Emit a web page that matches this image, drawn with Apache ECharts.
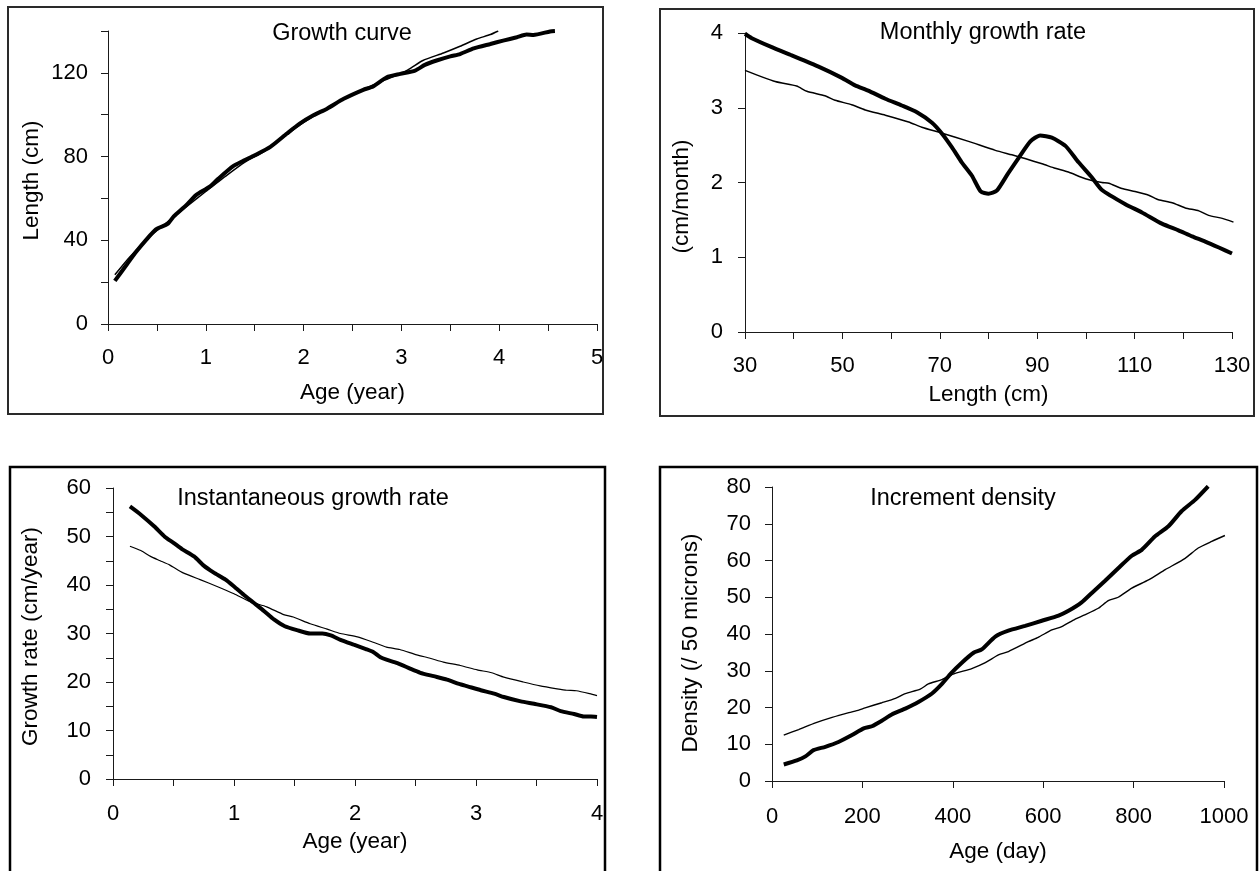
<!DOCTYPE html>
<html>
<head>
<meta charset="utf-8">
<script src="https://cdn.jsdelivr.net/npm/echarts@6/dist/echarts.min.js"></script>
<style>
html,body{margin:0;padding:0;background:#fff;}
#c{width:1259px;height:871px;}
</style>
</head>
<body>
<div id="c"></div>
<script>
// ---------- Panel 1: Growth curve ----------
const growthObsAge = [0.07,0.19,0.29,0.39,0.49,0.61,0.67,0.80,0.90,1.04,1.13,1.28,1.38,1.50,1.66,1.83,1.96,2.10,2.24,2.41,2.61,2.71,2.85,2.99,3.14,3.24,3.36,3.50,3.60,3.74,3.91,4.04,4.18,4.28,4.35,4.52,4.57];
const growthObsLen = [20.6,28.3,34.6,40.2,45.2,47.8,51.3,56.8,61.6,65.6,69.5,75.4,77.9,80.6,84.6,91.0,95.7,99.7,102.9,107.6,111.9,113.5,117.9,119.5,121.1,123.8,125.9,127.9,129.0,131.7,133.8,135.4,137.0,138.3,138.1,139.8,140.0];
const growthFitAge = [0.07,0.22,0.40,0.60,0.80,1.00,1.20,1.40,1.60,1.80,2.00,2.20,2.40,2.60,2.80,3.00,3.10,3.22,3.43,3.60,3.77,3.91,3.99];
const growthFitLen = [23.5,31.9,40.5,48.5,56.0,63.3,70.5,77.3,82.5,89.5,96.3,102.0,107.2,111.8,116.0,119.8,122.4,125.9,129.5,132.7,136.2,138.3,140.0];

// ---------- Panel 2: Monthly growth rate ----------
const monthlyObsLen = [30,31.4,35.5,39.6,45.1,49.9,52.6,55.3,58.8,62.2,65.3,68.4,70.5,72.5,74.5,76.6,78.4,80.0,81.7,84.1,86.2,88.6,90.6,93.0,95.8,98.5,101.2,103.3,108.1,111.5,115.6,119.0,121.8,124.5,127.3,130.0];
const monthlyObsRate = [3.99,3.93,3.81,3.70,3.55,3.40,3.30,3.23,3.12,3.03,2.94,2.80,2.65,2.47,2.27,2.09,1.88,1.85,1.89,2.13,2.33,2.55,2.63,2.60,2.49,2.27,2.07,1.90,1.71,1.60,1.45,1.36,1.28,1.21,1.13,1.05];
const monthlyFitLen = [30,36.2,40.6,42.7,46.4,48.5,51.9,54.7,58.8,63.6,66.3,70.5,75.9,81.4,84.8,87.5,91.0,93.7,96.4,99.9,103.3,104.7,107.4,110.1,112.9,114.9,117.7,120.4,123.2,125.2,128.0,130.3];
const monthlyFitRate = [3.50,3.35,3.29,3.22,3.16,3.10,3.04,2.97,2.90,2.81,2.74,2.66,2.55,2.43,2.37,2.32,2.25,2.19,2.14,2.05,2.00,1.99,1.92,1.88,1.83,1.77,1.73,1.66,1.62,1.56,1.52,1.47];

// ---------- Panel 3: Instantaneous growth rate ----------
const instObsAge = [0.14,0.23,0.34,0.43,0.50,0.57,0.67,0.75,0.83,0.93,1.00,1.08,1.16,1.25,1.33,1.42,1.52,1.63,1.73,1.80,1.88,1.99,2.09,2.15,2.21,2.26,2.35,2.46,2.54,2.65,2.76,2.86,2.93,3.04,3.15,3.23,3.37,3.48,3.62,3.70,3.81,3.89,3.95,4.00];
const instObsRate = [56.2,54.5,52.1,49.9,48.7,47.4,45.9,44.0,42.6,41.1,39.7,38.0,36.4,34.6,32.9,31.5,30.7,30.0,30.0,29.6,28.7,27.7,26.8,26.2,25.1,24.6,23.9,22.7,21.9,21.2,20.5,19.6,19.1,18.3,17.6,16.9,16.0,15.5,14.8,14.0,13.4,12.9,12.9,12.8];
const instFitAge = [0.14,0.23,0.31,0.39,0.47,0.58,0.72,0.86,1.00,1.13,1.27,1.41,1.49,1.63,1.77,1.88,2.02,2.15,2.26,2.37,2.51,2.62,2.73,2.87,3.01,3.13,3.23,3.39,3.53,3.67,3.75,3.83,3.94,4.00];
const instFitRate = [48.0,47.1,45.9,45.0,44.1,42.5,41.1,39.7,38.2,36.6,35.5,33.9,33.4,32.0,30.9,30.0,29.3,28.2,27.2,26.7,25.6,24.9,24.1,23.4,22.5,21.9,21.0,20.0,19.2,18.6,18.3,18.2,17.6,17.2];

// ---------- Panel 4: Increment density ----------
const densObsDay = [26,55,74,92,118,147,177,203,221,243,265,295,324,354,376,396,420,446,464,494,523,560,597,634,656,685,707,737,766,796,818,847,877,906,936,965];
const densObsVal = [4.5,5.6,6.7,8.4,9.3,10.6,12.5,14.3,14.9,16.4,18.1,19.7,21.5,23.8,26.4,29.3,32.2,34.9,35.8,39.3,40.9,42.2,43.6,45.0,46.3,48.6,51.1,54.5,57.9,61.3,62.9,66.5,69.3,73.4,76.5,80.2];
const densFitDay = [26,59,96,133,170,192,206,243,273,295,328,346,376,401,442,472,501,523,567,589,619,641,670,692,722,744,766,796,833,870,914,943,973,1002];
const densFitVal = [12.5,14.0,15.8,17.3,18.6,19.3,19.9,21.3,22.5,23.8,25.0,26.4,27.6,29.1,30.6,32.2,34.3,35.2,37.9,39.1,41.1,42.0,44.0,45.2,47.0,49.1,50.0,52.5,54.7,57.5,60.6,63.4,65.2,66.8];

// ---------- Text ----------
const panelTitles = ['Growth curve','Monthly growth rate','Instantaneous growth rate','Increment density'];
const xNames = ['Age (year)','Length (cm)','Age (year)','Age (day)'];
const yNames = ['Length (cm)','(cm/month)','Growth rate (cm/year)','Density (/ 50 microns)'];

function zip(xs, ys){ return xs.map((x,i)=>[x, ys[i]]); }
const FONT = "'Liberation Sans', Arial, Helvetica, sans-serif";
const AX = '#1a1a1a';

function labelFmt(min, every){
  return function(v){
    const k = (v - min) / every;
    return Math.abs(k - Math.round(k)) < 1e-6 ? String(Math.round(v*1000)/1000) : '';
  };
}
function makeAxis(grid, min, max, tick, every, name, nameGap, margin, namePad){
  return {
    type:'value', gridIndex:grid, min:min, max:max, interval:tick,
    name:name, nameLocation:'middle', nameGap:nameGap,
    nameTextStyle:{fontFamily:FONT, fontSize:22.5, color:'#000', padding:namePad || 0},
    axisLine:{show:true, onZero:false, lineStyle:{color:AX, width:1}},
    axisTick:{show:true, length:7, inside:false, lineStyle:{color:AX, width:1}},
    axisLabel:{show:true, margin:margin, fontFamily:FONT, fontSize:22, color:'#000',
      formatter: labelFmt(min, every), showMinLabel:true, showMaxLabel:true, hideOverlap:false},
    splitLine:{show:false}
  };
}
function line(xi, data, width){
  return {type:'line', xAxisIndex:xi, yAxisIndex:xi, data:data, symbol:'none', showSymbol:false,
    smooth:0.2, lineStyle:{color:'#000', width:width}, itemStyle:{color:'#000'}, clip:true,
    emphasis:{disabled:true}, silent:true};
}

const chart = echarts.init(document.getElementById('c'), null, {renderer:'canvas'});
const titleStyle = {fontFamily:FONT, fontSize:23.5, fontWeight:'normal', color:'#000'};
chart.setOption({
  animation:false,
  backgroundColor:'#fff',
  title:[
    {text:panelTitles[0], left:337, top:17, textAlign:'center', textStyle:titleStyle},
    {text:panelTitles[1], left:978, top:16, textAlign:'center', textStyle:titleStyle},
    {text:panelTitles[2], left:308, top:482, textAlign:'center', textStyle:titleStyle},
    {text:panelTitles[3], left:958, top:482, textAlign:'center', textStyle:titleStyle}
  ],
  grid:[
    {left:108, top:31, right:662, bottom:547, outerBoundsMode:'none'},
    {left:745, top:33, right:27, bottom:539, outerBoundsMode:'none'},
    {left:113, top:488, right:662, bottom:92, outerBoundsMode:'none'},
    {left:772, top:487, right:35, bottom:90, outerBoundsMode:'none'}
  ],
  xAxis:[
    makeAxis(0, 0, 5, 0.5, 1, xNames[0], 57, 23),
    makeAxis(1, 30, 130, 10, 20, xNames[1], 51, 23),
    makeAxis(2, 0, 4, 0.5, 1, xNames[2], 51, 24),
    makeAxis(3, 0, 1000, 200, 200, xNames[3], 59, 25)
  ],
  yAxis:[
    makeAxis(0, 0, 140, 20, 40, yNames[0], 65, 20, [0,6,0,0]),
    makeAxis(1, 0, 4, 1, 1, yNames[1], 52, 22, [0,28,0,0]),
    makeAxis(2, 0, 60, 5, 10, yNames[2], 71, 22, [0,6,0,0]),
    makeAxis(3, 0, 80, 10, 10, yNames[3], 70, 21, [0,18,0,0])
  ],
  series:[
    line(0, zip(growthFitAge, growthFitLen), 1.5),
    line(0, zip(growthObsAge, growthObsLen), 4),
    line(1, zip(monthlyFitLen, monthlyFitRate), 1.5),
    line(1, zip(monthlyObsLen, monthlyObsRate), 4),
    line(2, zip(instFitAge, instFitRate), 1.2),
    line(2, zip(instObsAge, instObsRate), 4),
    line(3, zip(densFitDay, densFitVal), 1.4),
    line(3, zip(densObsDay, densObsVal), 4)
  ],
  graphic:[
    {type:'rect', silent:true, shape:{x:8, y:7, width:595, height:407}, style:{fill:'none', stroke:'#2a2a2a', lineWidth:2}},
    {type:'rect', silent:true, shape:{x:660, y:9, width:594, height:407}, style:{fill:'none', stroke:'#2a2a2a', lineWidth:2}},
    {type:'rect', silent:true, shape:{x:10, y:467, width:595, height:460}, style:{fill:'none', stroke:'#000', lineWidth:2.5}},
    {type:'rect', silent:true, shape:{x:660, y:467, width:597, height:460}, style:{fill:'none', stroke:'#000', lineWidth:2.5}}
  ]
});
</script>
</body>
</html>
